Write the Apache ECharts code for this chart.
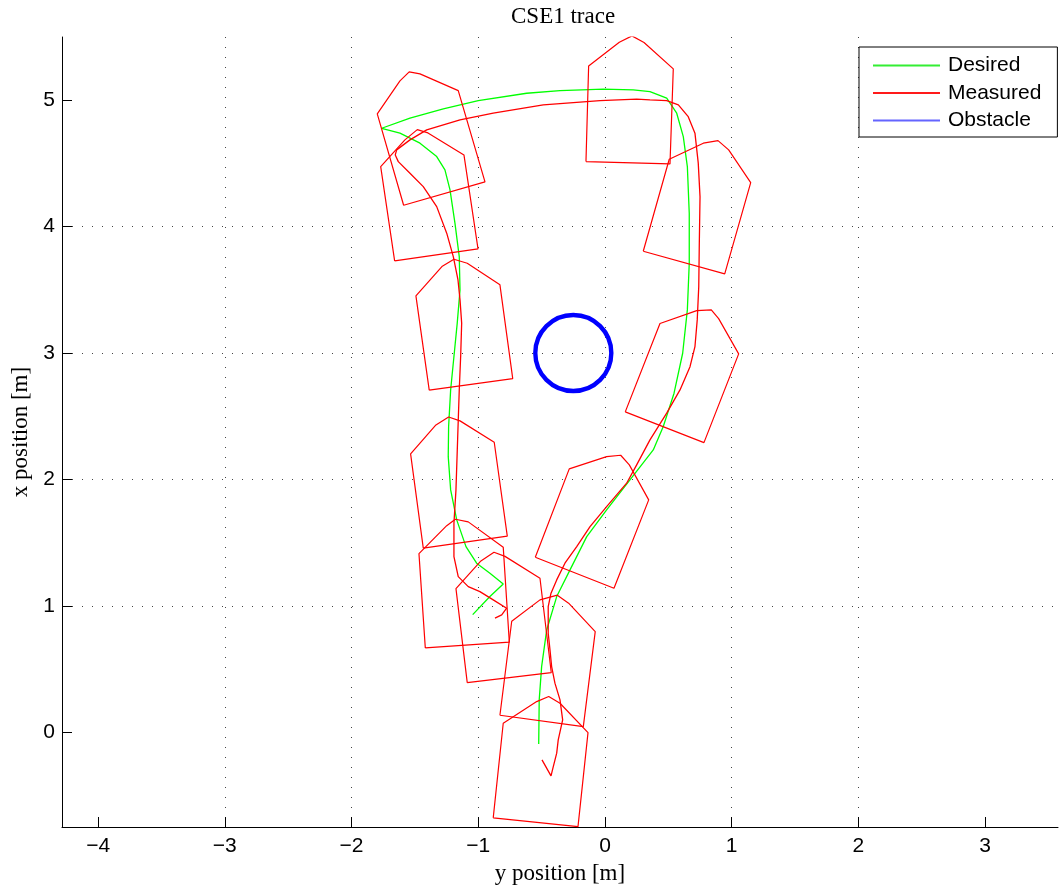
<!DOCTYPE html>
<html><head><meta charset="utf-8">
<script src="https://cdn.jsdelivr.net/npm/echarts@6/dist/echarts.min.js"></script>
<style>html,body{margin:0;padding:0;background:#fff}#chart{width:1059px;height:888px}</style>
</head><body><div id="chart"></div>
<script>
const xTickValues = [-4, -3, -2, -1, 0, 1, 2, 3];
const yTickValues = [0, 1, 2, 3, 4, 5];

const desiredPath = [
  [-0.523,-0.093],[-0.519,0.256],[-0.500,0.519],[-0.460,0.809],[-0.381,1.073],[-0.276,1.284],
  [-0.144,1.547],[0.013,1.759],[0.197,1.996],[0.381,2.233],[0.460,2.418],[0.545,2.682],
  [0.613,2.998],[0.650,3.341],[0.665,3.710],[0.665,4.106],[0.650,4.475],[0.618,4.712],
  [0.566,4.897],[0.487,5.016],[0.355,5.068],[0.223,5.081],[-0.013,5.087],[-0.355,5.076],
  [-0.618,5.055],[-1.000,4.997],[-1.276,4.931],[-1.539,4.858],[-1.762,4.778],[-1.618,4.739],
  [-1.460,4.660],[-1.328,4.554],[-1.263,4.449],[-1.223,4.290],[-1.184,4.027],[-1.150,3.763],
  [-1.144,3.499],[-1.166,3.236],[-1.192,2.972],[-1.218,2.708],[-1.234,2.418],[-1.237,2.180],
  [-1.218,1.917],[-1.170,1.680],[-1.097,1.468],[-1.013,1.337],[-0.908,1.258],[-0.803,1.173],
  [-0.908,1.073],[-1.044,0.930]
];

const measuredPath = [
  [-0.497,-0.219],[-0.426,-0.346],[-0.408,-0.272],[-0.381,-0.166],[-0.369,-0.061],[-0.334,0.097],
  [-0.355,0.256],[-0.395,0.388],[-0.421,0.519],[-0.434,0.651],[-0.448,0.783],[-0.448,0.994],
  [-0.426,1.100],[-0.381,1.205],[-0.316,1.337],[-0.223,1.468],[-0.118,1.627],[0.013,1.785],
  [0.171,1.970],[0.250,2.115],[0.355,2.313],[0.487,2.524],[0.592,2.708],[0.671,2.892],
  [0.710,3.051],[0.728,3.262],[0.740,3.525],[0.744,3.842],[0.750,4.237],[0.736,4.502],
  [0.710,4.739],[0.657,4.870],[0.579,4.963],[0.487,4.997],[0.355,5.002],[0.250,5.008],
  [-0.039,4.997],[-0.487,4.963],[-0.882,4.897],[-1.144,4.844],[-1.407,4.765],[-1.539,4.686],
  [-1.644,4.607],[-1.655,4.567],[-1.631,4.514],[-1.539,4.422],[-1.434,4.316],[-1.328,4.158],
  [-1.249,3.948],[-1.197,3.763],[-1.160,3.578],[-1.144,3.420],[-1.131,3.236],[-1.139,2.972],
  [-1.150,2.708],[-1.163,2.313],[-1.176,1.917],[-1.192,1.653],[-1.192,1.389],[-1.158,1.231],
  [-1.079,1.152],[-0.987,1.112],[-0.882,1.047],[-0.776,0.981],[-0.815,0.928],[-0.868,0.902]
];

const outlineA = [[-1.589,4.169],[-1.797,4.892],[-1.618,5.153],[-1.545,5.224],[-1.460,5.208],[-1.158,5.076],[-0.947,4.354],[-1.589,4.169]];
const outlineB = [[-1.660,3.729],[-1.770,4.475],[-1.579,4.686],[-1.481,4.767],[-1.397,4.741],[-1.113,4.567],[-1.002,3.824],[-1.660,3.729]];
const outlineC = [[-0.150,4.514],[-0.129,5.271],[0.113,5.459],[0.213,5.509],[0.308,5.456],[0.539,5.248],[0.513,4.496],[-0.150,4.514]];
const outlineD = [[0.302,3.805],[0.507,4.533],[0.776,4.660],[0.892,4.680],[0.976,4.607],[1.150,4.348],[0.945,3.626],[0.302,3.805]];
const outlineE = [[0.160,2.534],[0.434,3.233],[0.724,3.335],[0.839,3.341],[0.897,3.272],[1.055,2.993],[0.781,2.291],[0.160,2.534]];
const outlineF = [[-1.387,2.706],[-1.492,3.452],[-1.287,3.684],[-1.192,3.742],[-1.087,3.710],[-0.829,3.539],[-0.728,2.797],[-1.387,2.706]];
const outlineG = [[-1.434,1.456],[-1.534,2.202],[-1.334,2.431],[-1.234,2.494],[-1.144,2.463],[-0.874,2.294],[-0.771,1.551],[-1.434,1.456]];
const outlineH = [[-1.418,0.667],[-1.468,1.413],[-1.249,1.634],[-1.181,1.685],[-1.079,1.664],[-0.803,1.464],[-0.755,0.712],[-1.418,0.667]];
const outlineI = [[-1.087,0.392],[-1.176,1.136],[-0.979,1.355],[-0.876,1.424],[-0.789,1.391],[-0.513,1.218],[-0.424,0.472],[-1.087,0.392]];
const outlineJ = [[-0.829,0.134],[-0.736,0.878],[-0.513,1.047],[-0.376,1.084],[-0.287,1.021],[-0.077,0.796],[-0.171,0.044],[-0.829,0.134]];
const outlineK = [[-0.882,-0.678],[-0.803,0.071],[-0.539,0.242],[-0.444,0.282],[-0.355,0.229],[-0.134,-0.003],[-0.213,-0.747],[-0.882,-0.678]];
const outlineL = [[-0.550,1.384],[-0.282,2.083],[0.013,2.180],[0.124,2.191],[0.192,2.115],[0.345,1.838],[0.071,1.139],[-0.550,1.384]];

// obstacle: [centre y-position, centre x-position, radius]
const obstacle = [[-0.25, 3.0, 0.3]];

const outlines = [outlineA, outlineB, outlineC, outlineD, outlineE, outlineF, outlineG, outlineH, outlineI, outlineJ, outlineK, outlineL];

const SANS = 'Liberation Sans';
const SERIF = 'Liberation Serif';
const fmt = v => String(v).replace('-', '\u2212');

const series = [
  { name: 'Desired', type: 'line', data: desiredPath, symbol: 'none', showSymbol: false,
    color: '#00ff00', lineStyle: { color: '#00ff00', width: 1.3 }, z: 3 },
  { name: 'Measured', type: 'line', data: measuredPath, symbol: 'none', showSymbol: false,
    color: '#ff0000', lineStyle: { color: '#ff0000', width: 1.3 }, z: 4 }
];
outlines.forEach((o, i) => series.push({
  name: 'outline' + i, type: 'line', data: o, symbol: 'none', showSymbol: false,
  color: '#ff0000', lineStyle: { color: '#ff0000', width: 1.2 }, z: 4
}));
series.push({
  name: 'Obstacle', type: 'custom', data: obstacle, encode: { x: 0, y: 1 },
  itemStyle: { color: '#0000ff' }, z: 5,
  renderItem: function (params, api) {
    const c = api.coord([api.value(0), api.value(1)]);
    const r = api.size([api.value(2), 0])[0];
    return { type: 'circle', shape: { cx: c[0], cy: c[1], r: r },
      style: { fill: 'none', stroke: '#0000ff', lineWidth: 4.4 } };
  }
});

const option = {
  animation: false,
  backgroundColor: '#fff',
  title: { text: 'CSE1 trace', left: 511, top: 5, padding: 0,
    textStyle: { fontFamily: SERIF, fontSize: 23, fontWeight: 'normal', color: '#000' } },
  legend: {
    orient: 'vertical', left: 859, top: 47, selectedMode: false,
    data: [
      { name: 'Desired', itemStyle: { color: '#33ee33' } },
      { name: 'Measured', itemStyle: { color: '#ff1a1a' } },
      { name: 'Obstacle', itemStyle: { color: '#6464ff' } }
    ],
    icon: 'rect', itemWidth: 67, itemHeight: 2, itemGap: 6.5,
    padding: [8, 16, 6, 14], borderColor: '#000', borderWidth: 1, backgroundColor: '#fff',
    textStyle: { fontFamily: SANS, fontSize: 21, color: '#000', lineHeight: 21, padding: [0, 0, 0, 3] }
  },
  grid: { left: 62, right: 1, top: 37, bottom: 61, containLabel: false, outerBoundsMode: 'none' },
  xAxis: {
    type: 'value', min: -4.285, max: 3.575,
    name: 'y position [m]', nameLocation: 'middle', nameGap: 35,
    nameTextStyle: { fontFamily: SERIF, fontSize: 23, color: '#000' },
    axisLine: { show: true, onZero: false, lineStyle: { color: '#000', width: 1 } },
    axisTick: { show: true, inside: true, length: 10, customValues: xTickValues, lineStyle: { color: '#000' } },
    axisLabel: { customValues: xTickValues, formatter: fmt, fontFamily: SANS, fontSize: 21, color: '#000', margin: 9 },
    splitLine: { show: true, showMinLine: false, showMaxLine: false, lineStyle: { type: [1, 9], color: '#444', width: 1 } }
  },
  yAxis: {
    type: 'value', min: -0.75, max: 5.5,
    name: 'x position [m]', nameLocation: 'middle', nameGap: 28.5,
    nameTextStyle: { fontFamily: SERIF, fontSize: 23, color: '#000' },
    axisLine: { show: true, onZero: false, lineStyle: { color: '#000', width: 1 } },
    axisTick: { show: true, inside: true, length: 10, customValues: yTickValues, lineStyle: { color: '#000' } },
    axisLabel: { customValues: yTickValues, formatter: fmt, fontFamily: SANS, fontSize: 21, color: '#000', margin: 7 },
    splitLine: { show: true, showMinLine: false, showMaxLine: false, lineStyle: { type: [1, 9], color: '#444', width: 1 } }
  },
  series: series
};

const chart = echarts.init(document.getElementById('chart'), null, { renderer: 'canvas' });
chart.setOption(option);
</script>
</body></html>
